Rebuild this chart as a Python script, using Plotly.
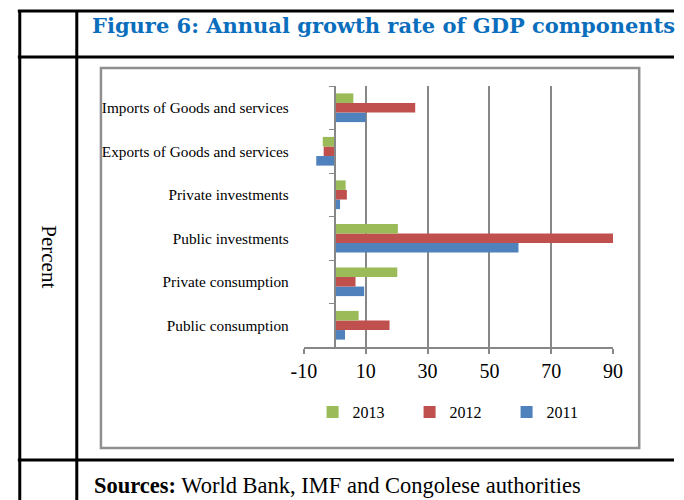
import plotly.graph_objects as go

W, H = 684, 500

# ---- data ----
categories = [
    "Public consumption",
    "Private consumption",
    "Public investments",
    "Private investments",
    "Exports of Goods and services",
    "Imports of Goods and services",
]
years = ["2011", "2012", "2013"]
values_2011 = [3.3, 9.5, 59.4, 1.7, -6.0, 10.0]
values_2012 = [17.7, 6.7, 90.0, 3.9, -3.6, 26.0]
values_2013 = [7.7, 20.2, 20.4, 3.5, -3.9, 6.0]
colors = ["#4F81BD", "#C0504D", "#9BBB59"]
x_tickvals = [-10, 10, 30, 50, 70, 90]
x_ticktext = ["-10", "10", "30", "50", "70", "90"]
x_range = [-10, 90]

title_text = "Figure 6: Annual growth rate of GDP components"
side_text = "Percent"
source_bold = "Sources:"
source_rest = " World Bank, IMF and Congolese authorities"


def px(x):
    return x / W


def py(y):
    return 1 - y / H


# plot area in pixels
PL, PR, PT, PB = 301, 621, 86, 347

fig = go.Figure()
for yr, vals, col in zip(years, [values_2011, values_2012, values_2013], colors):
    fig.add_trace(go.Bar(
        y=categories, x=vals, name=yr, orientation="h",
        marker=dict(color=col, line=dict(width=0)),
    ))

# position of the category axis at x = 0
zero_pos = px(PL + (0 - x_range[0]) / (x_range[1] - x_range[0]) * (PR - PL))

serif = "Liberation Serif"

fig.update_layout(
    width=W, height=H,
    margin=dict(l=0, r=0, t=0, b=0),
    paper_bgcolor="white", plot_bgcolor="white",
    barmode="group", bargap=0.34, bargroupgap=0,
    showlegend=True,
    legend=dict(
        orientation="h", traceorder="reversed",
        x=px(310), xanchor="left", y=py(412), yanchor="middle",
        font=dict(family=serif, size=16, color="black"),
        entrywidth=52, entrywidthmode="pixels",
        bgcolor="rgba(0,0,0,0)",
    ),
    xaxis=dict(
        domain=[px(PL), px(PR)], range=x_range,
        tickvals=x_tickvals, ticktext=x_ticktext,
        showgrid=True, gridcolor="#878787", gridwidth=2,
        zeroline=False,
        showline=True, linecolor="#878787", linewidth=2,
        ticks="outside", ticklen=5, tickcolor="#878787", tickwidth=2,
        tickfont=dict(family=serif, size=20, color="black"),
        fixedrange=True,
    ),
    yaxis=dict(
        domain=[py(PB), py(PT)],
        type="category", categoryorder="array", categoryarray=categories,
        anchor="free", position=zero_pos,
        showgrid=False, zeroline=False,
        showline=True, linecolor="#878787", linewidth=2,
        ticks="outside", ticklen=5, tickcolor="#878787", tickwidth=1,
        tickson="boundaries",
        ticklabelstandoff=42,
        tickfont=dict(family=serif, size=15.3, color="black"),
        fixedrange=True,
    ),
)

shapes = []
black = dict(color="black", width=3)
# table lines
shapes.append(dict(type="line", xref="paper", yref="paper", x0=px(5), x1=1, y0=py(11), y1=py(11), line=black))
shapes.append(dict(type="line", xref="paper", yref="paper", x0=px(5), x1=1, y0=py(57), y1=py(57), line=black))
shapes.append(dict(type="line", xref="paper", yref="paper", x0=px(5), x1=1, y0=py(460), y1=py(460), line=black))
shapes.append(dict(type="line", xref="paper", yref="paper", x0=px(7), x1=px(7), y0=py(10), y1=0, line=black))
shapes.append(dict(type="line", xref="paper", yref="paper", x0=px(66), x1=px(66), y0=py(10), y1=0, line=black))
# chart frame
shapes.append(dict(type="rect", xref="paper", yref="paper", x0=px(91), x1=px(648), y0=py(448), y1=py(68),
                   line=dict(color="#8f8f8f", width=2.5), layer="below"))
fig.update_layout(shapes=shapes)

annotations = [
    dict(text="<b>" + title_text + "</b>", xref="paper", yref="paper",
         x=px(80), y=py(25), xanchor="left", yanchor="middle", showarrow=False,
         font=dict(family="DejaVu Serif", size=21, color="#0A6EBD")),
    dict(text=side_text, xref="paper", yref="paper", textangle=90,
         x=px(37), y=py(257), xanchor="center", yanchor="middle", showarrow=False,
         font=dict(family=serif, size=21, color="black")),
    dict(text="<b>" + source_bold + "</b>" + source_rest, xref="paper", yref="paper",
         x=px(82), y=py(485), xanchor="left", yanchor="middle", showarrow=False,
         font=dict(family=serif, size=22.5, color="black")),
]
fig.update_layout(annotations=annotations)

fig.write_html("out.html")
